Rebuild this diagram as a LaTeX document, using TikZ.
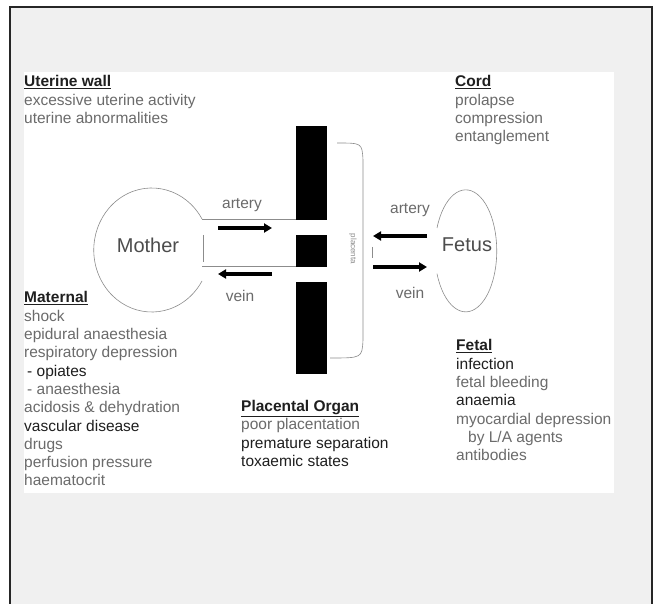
\documentclass[tikz,border=0pt]{standalone}
\usepackage{fontspec}
\setmainfont{Liberation Sans}
\usetikzlibrary{arrows.meta}
\definecolor{pagegray}{gray}{0.94}
\definecolor{txtgray}{gray}{0.42}
\definecolor{darktxt}{gray}{0.12}
\definecolor{linegray}{gray}{0.55}
\newcommand\blockhead[1]{\textcolor{darktxt}{\underline{\textbf{#1}}}}
\newcommand\darkline[1]{\textcolor{darktxt}{#1}}
\tikzset{
  block/.style={font=\fontsize{15.5}{18.3}\selectfont, text=txtgray, align=left, inner sep=0pt, anchor=north west},
  vessel/.style={font=\fontsize{15.5}{18.3}\selectfont, text=txtgray, inner sep=0pt},
  body/.style={font=\fontsize{20}{24}\selectfont, text=black!70, inner sep=0pt},
  flow/.style={line width=3.2pt, -{Triangle[length=8pt,width=9pt]}},
  wall/.style={fill=black},
  outline/.style={linegray, line width=0.6pt}
}
\begin{document}
\begin{tikzpicture}[x=1pt,y=-1pt]
\useasboundingbox (0,0) rectangle (656,604);
\fill[white] (0,0) rectangle (656,604);
\filldraw[fill=pagegray, draw=black!85, line width=1.3pt] (10,7) rectangle (652,620);
\fill[white] (24,72) rectangle (614,493);

\fill[wall] (296,126) rectangle (327,220);
\fill[wall] (296,235) rectangle (327,267);
\fill[wall] (296,282) rectangle (327,374);

\node[body] (mother) at (148,245) {Mother};
\node[body] (fetus) at (467,245) {Fetus};

\draw[outline] (202,219) arc[start angle=-30, end angle=-330, x radius=58, y radius=62];
\draw[outline] (202,219) -- (296,219);
\draw[outline] (202,266) -- (296,266);
\draw[outline] (203,235) -- (203,262);
\draw[outline] (437,228) arc[start angle=202, end angle=518, x radius=31, y radius=61];

\draw[outline] (337,143) .. controls (362,143) .. (363,160) -- (363,340) .. controls (362,358) .. (330,358);
\node[font=\fontsize{8}{8}\selectfont, text=linegray, rotate=-90, inner sep=0pt] (villi) at (353,249) {placenta};
\draw[outline] (372,247) -- (372,258);

\coordinate (ma1) at (218,228);
\coordinate (ma2) at (272,228);
\coordinate (mv1) at (272,274);
\coordinate (mv2) at (218,274);
\coordinate (fa1) at (427,236);
\coordinate (fa2) at (373,236);
\coordinate (fv1) at (373,267);
\coordinate (fv2) at (427,267);
\draw[flow] (ma1) -- (ma2);
\draw[flow] (mv1) -- (mv2);
\draw[flow] (fa1) -- (fa2);
\draw[flow] (fv1) -- (fv2);

\node[vessel] (martery) at (242,205) {artery};
\node[vessel] (mvein) at (240,296) {vein};
\node[vessel] (fartery) at (410,210) {artery};
\node[vessel] (fvein) at (410,293) {vein};

\node[block] (uterine) at (24,75.5) {\blockhead{Uterine wall}\\
excessive uterine activity\\
uterine abnormalities};
\node[block] (cord) at (455,75.5) {\blockhead{Cord}\\
prolapse\\
compression\\
entanglement};
\node[block] (maternal) at (24,291.5) {\blockhead{Maternal}\\
shock\\
epidural anaesthesia\\
respiratory depression\\
\hspace*{3pt}\darkline{- opiates}\\
\hspace*{3pt}- anaesthesia\\
acidosis \& dehydration\\
\darkline{vascular disease}\\
drugs\\
perfusion pressure\\
haematocrit};
\node[block] (placental) at (241,400) {\blockhead{Placental Organ}\\
poor placentation\\
\darkline{premature separation}\\
\darkline{toxaemic states}};
\node[block] (fetal) at (456,339.5) {\blockhead{Fetal}\\
\darkline{infection}\\
fetal bleeding\\
\darkline{anaemia}\\
myocardial depression\\
\hspace*{12pt}by L/A agents\\
antibodies};
\end{tikzpicture}
\end{document}
